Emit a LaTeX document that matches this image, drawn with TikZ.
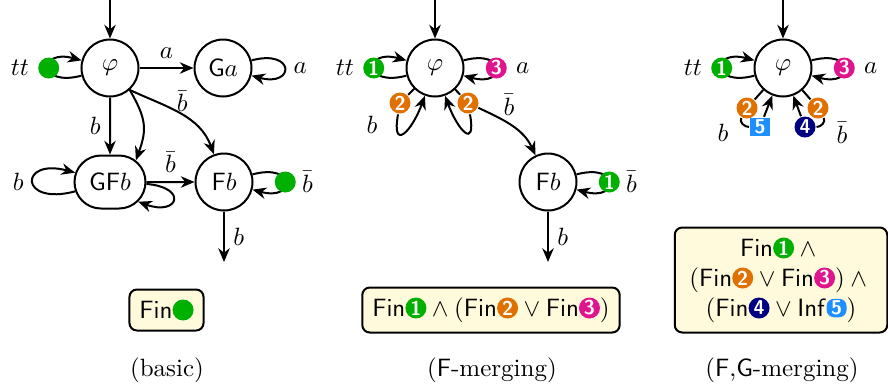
\documentclass[tikz,border=0pt]{standalone}
\usepackage{amsmath}
\usetikzlibrary{arrows.meta, positioning, shapes.misc}

\definecolor{accA}{HTML}{00B000}
\definecolor{accB}{HTML}{E07000}
\definecolor{accC}{HTML}{E0148C}
\definecolor{accD}{HTML}{000080}
\definecolor{accE}{HTML}{1E8FFF}
\definecolor{accfill}{HTML}{FFFADC}

% acceptance marks inside the formulas
\newcommand{\accmark}[2]{\tikz[baseline=-3.3pt]\node[badge, fill=#1]{#2};}
\newcommand{\accsq}[2]{\tikz[baseline=-3.3pt]\node[badgesq, fill=#1]{#2};}
\newcommand{\accdotmark}{\tikz[baseline=-3.3pt]\node[accdot]{};}

\begin{document}
\begin{tikzpicture}[x=0.4pt, y=-0.4pt, thick,
      >={Stealth[length=5.5pt, width=4.6pt]},
      st/.style={circle, draw, minimum size=22.8pt, inner sep=0pt},
      stwide/.style={rounded rectangle, draw, minimum width=28.4pt, minimum height=21.2pt, inner sep=0pt},
      badge/.style={circle, anchor=center, minimum size=8.4pt, inner sep=0pt, text=white, font=\footnotesize\sffamily\bfseries},
      badgesq/.style={rectangle, anchor=center, minimum width=8pt, minimum height=7.4pt, inner sep=0pt, text=white, font=\footnotesize\sffamily\bfseries},
      accdot/.style={circle, anchor=center, fill=accA, minimum size=8.4pt, inner sep=0pt},
      accbox/.style={draw, fill=accfill, rounded corners=3pt, inner sep=4pt},
      lp/.style={looseness=7.6}]

      \useasboundingbox (0,0) rectangle (888,389);

      % (basic)
      \node[st] (phi1) at (110,68) {$\varphi$};
      \node[st] (Ga1) at (223,68) {$\mathsf{G}a$};
      \node[stwide] (GFb1) at (110,182) {$\mathsf{GF}b$};
      \node[st] (Fb1) at (224,182) {$\mathsf{F}b$};
      \coordinate (init1) at (110,0);
      \coordinate (out1) at (224,262);

      \draw[->] (init1) -- (phi1);
      \draw[->] (phi1) to[loop left, lp] node[accdot]{} node[left=4.2pt]{$tt$} (phi1);
      \draw[->] (phi1) -- node[above]{$a$} (Ga1);
      \draw[->] (Ga1) to[loop right, lp] node[right]{$a$} (Ga1);
      \draw[->] (phi1) -- node[left]{$b$} (GFb1);
      \draw[->] (phi1.-48) to[out=-60, in=70, looseness=1.2] (GFb1.40);
      \draw[->] (phi1.-48) to[out=-25, in=110] node[pos=0.52, above, inner sep=1pt]{$\bar b$} (Fb1);
      \draw[->] (GFb1) -- node[above]{$\bar b$} (Fb1);
      \draw[->] (GFb1) to[loop left] node[left]{$b$} (GFb1);
      \draw[->] (GFb1.-3) to[out=-5, in=-20, distance=17pt] (GFb1.-35);
      \draw[->] (Fb1) to[loop right, lp] node[accdot]{} node[right=3pt]{$\bar b$} (Fb1);
      \draw[->] (Fb1) -- node[right]{$b$} (out1);

      % (F-merging)
      \node[st] (phi2) at (435,68) {$\varphi$};
      \node[st] (Fb2) at (548,182) {$\mathsf{F}b$};
      \node[badge, fill=accB] (m2l) at (400,103) {2};
      \node[badge, fill=accB] (m2r) at (468,103) {2};
      \node (lb2) at (372,125) {$b$};
      \coordinate (init2) at (435,0);
      \coordinate (out2) at (548,262);

      \draw[->] (init2) -- (phi2);
      \draw[->] (phi2) to[loop left, lp] node[badge, fill=accA]{1} node[left=4.2pt]{$tt$} (phi2);
      \draw[->] (phi2) to[loop right, lp] node[badge, fill=accC]{3} node[right=4.2pt]{$a$} (phi2);
      \draw (phi2) -- (m2l);
      \draw[->] (m2l) to[out=-100, in=-110, looseness=3] (phi2.250);
      \draw (phi2) -- (m2r);
      \draw[->] (m2r) to[out=-80, in=-70, looseness=3] (phi2.290);
      \draw[->] (m2r) to[out=-25, in=115] node[pos=0.3, above right, inner sep=1pt]{$\bar b$} (Fb2);
      \draw[->] (Fb2) to[loop right, lp] node[badge, fill=accA]{1} node[right=3pt]{$\bar b$} (Fb2);
      \draw[->] (Fb2) -- node[right]{$b$} (out2);

      % (F,G-merging)
      \node[st] (phi3) at (783,68) {$\varphi$};
      \node[badge, fill=accB] (m3l) at (747,108) {2};
      \node[badge, fill=accB] (m3r) at (818,108) {2};
      \node[badgesq, fill=accE] (m5) at (760,127) {5};
      \node[badge, fill=accD] (m4) at (805,127) {4};
      \node (lb3) at (723,133) {$b$};
      \node (lbb3) at (842,133) {$\bar b$};
      \coordinate (init3) at (783,0);

      \draw[->] (init3) -- (phi3);
      \draw[->] (phi3) to[loop left, lp] node[badge, fill=accA]{1} node[left=4.2pt]{$tt$} (phi3);
      \draw[->] (phi3) to[loop right, lp] node[badge, fill=accC]{3} node[right=4.2pt]{$a$} (phi3);
      \draw (phi3) -- (m3l);
      \draw (m3l) to[out=-120, in=180] (m5);
      \draw[->] (m5) -- (phi3);
      \draw (phi3) -- (m3r);
      \draw (m3r) to[out=-60, in=0] (m4);
      \draw[->] (m4) -- (phi3);

      % acceptance conditions
      \node[accbox] (acc1) at (166.5,310) {$\mathsf{Fin}$\accdotmark};
      \node[accbox] (acc2) at (491,310) {$\mathsf{Fin}\accmark{accA}{1} \land (\mathsf{Fin}\accmark{accB}{2} \lor \mathsf{Fin}\accmark{accC}{3})$};
      \node[accbox, align=center, minimum width=85pt] (acc3) at (781,280)
         {$\mathsf{Fin}\accmark{accA}{1} \land{}$\\
          $(\mathsf{Fin}\accmark{accB}{2} \lor \mathsf{Fin}\accmark{accC}{3}) \land{}$\\
          $(\mathsf{Fin}\accmark{accD}{4} \lor \mathsf{Inf}\accsq{accE}{5})$};

      % captions
      \node (cap1) at (167,370) {(basic)};
      \node (cap2) at (492,370) {(\textsf{F}-merging)};
      \node (cap3) at (782,370) {(\textsf{F},\textsf{G}-merging)};
\end{tikzpicture}
\end{document}
